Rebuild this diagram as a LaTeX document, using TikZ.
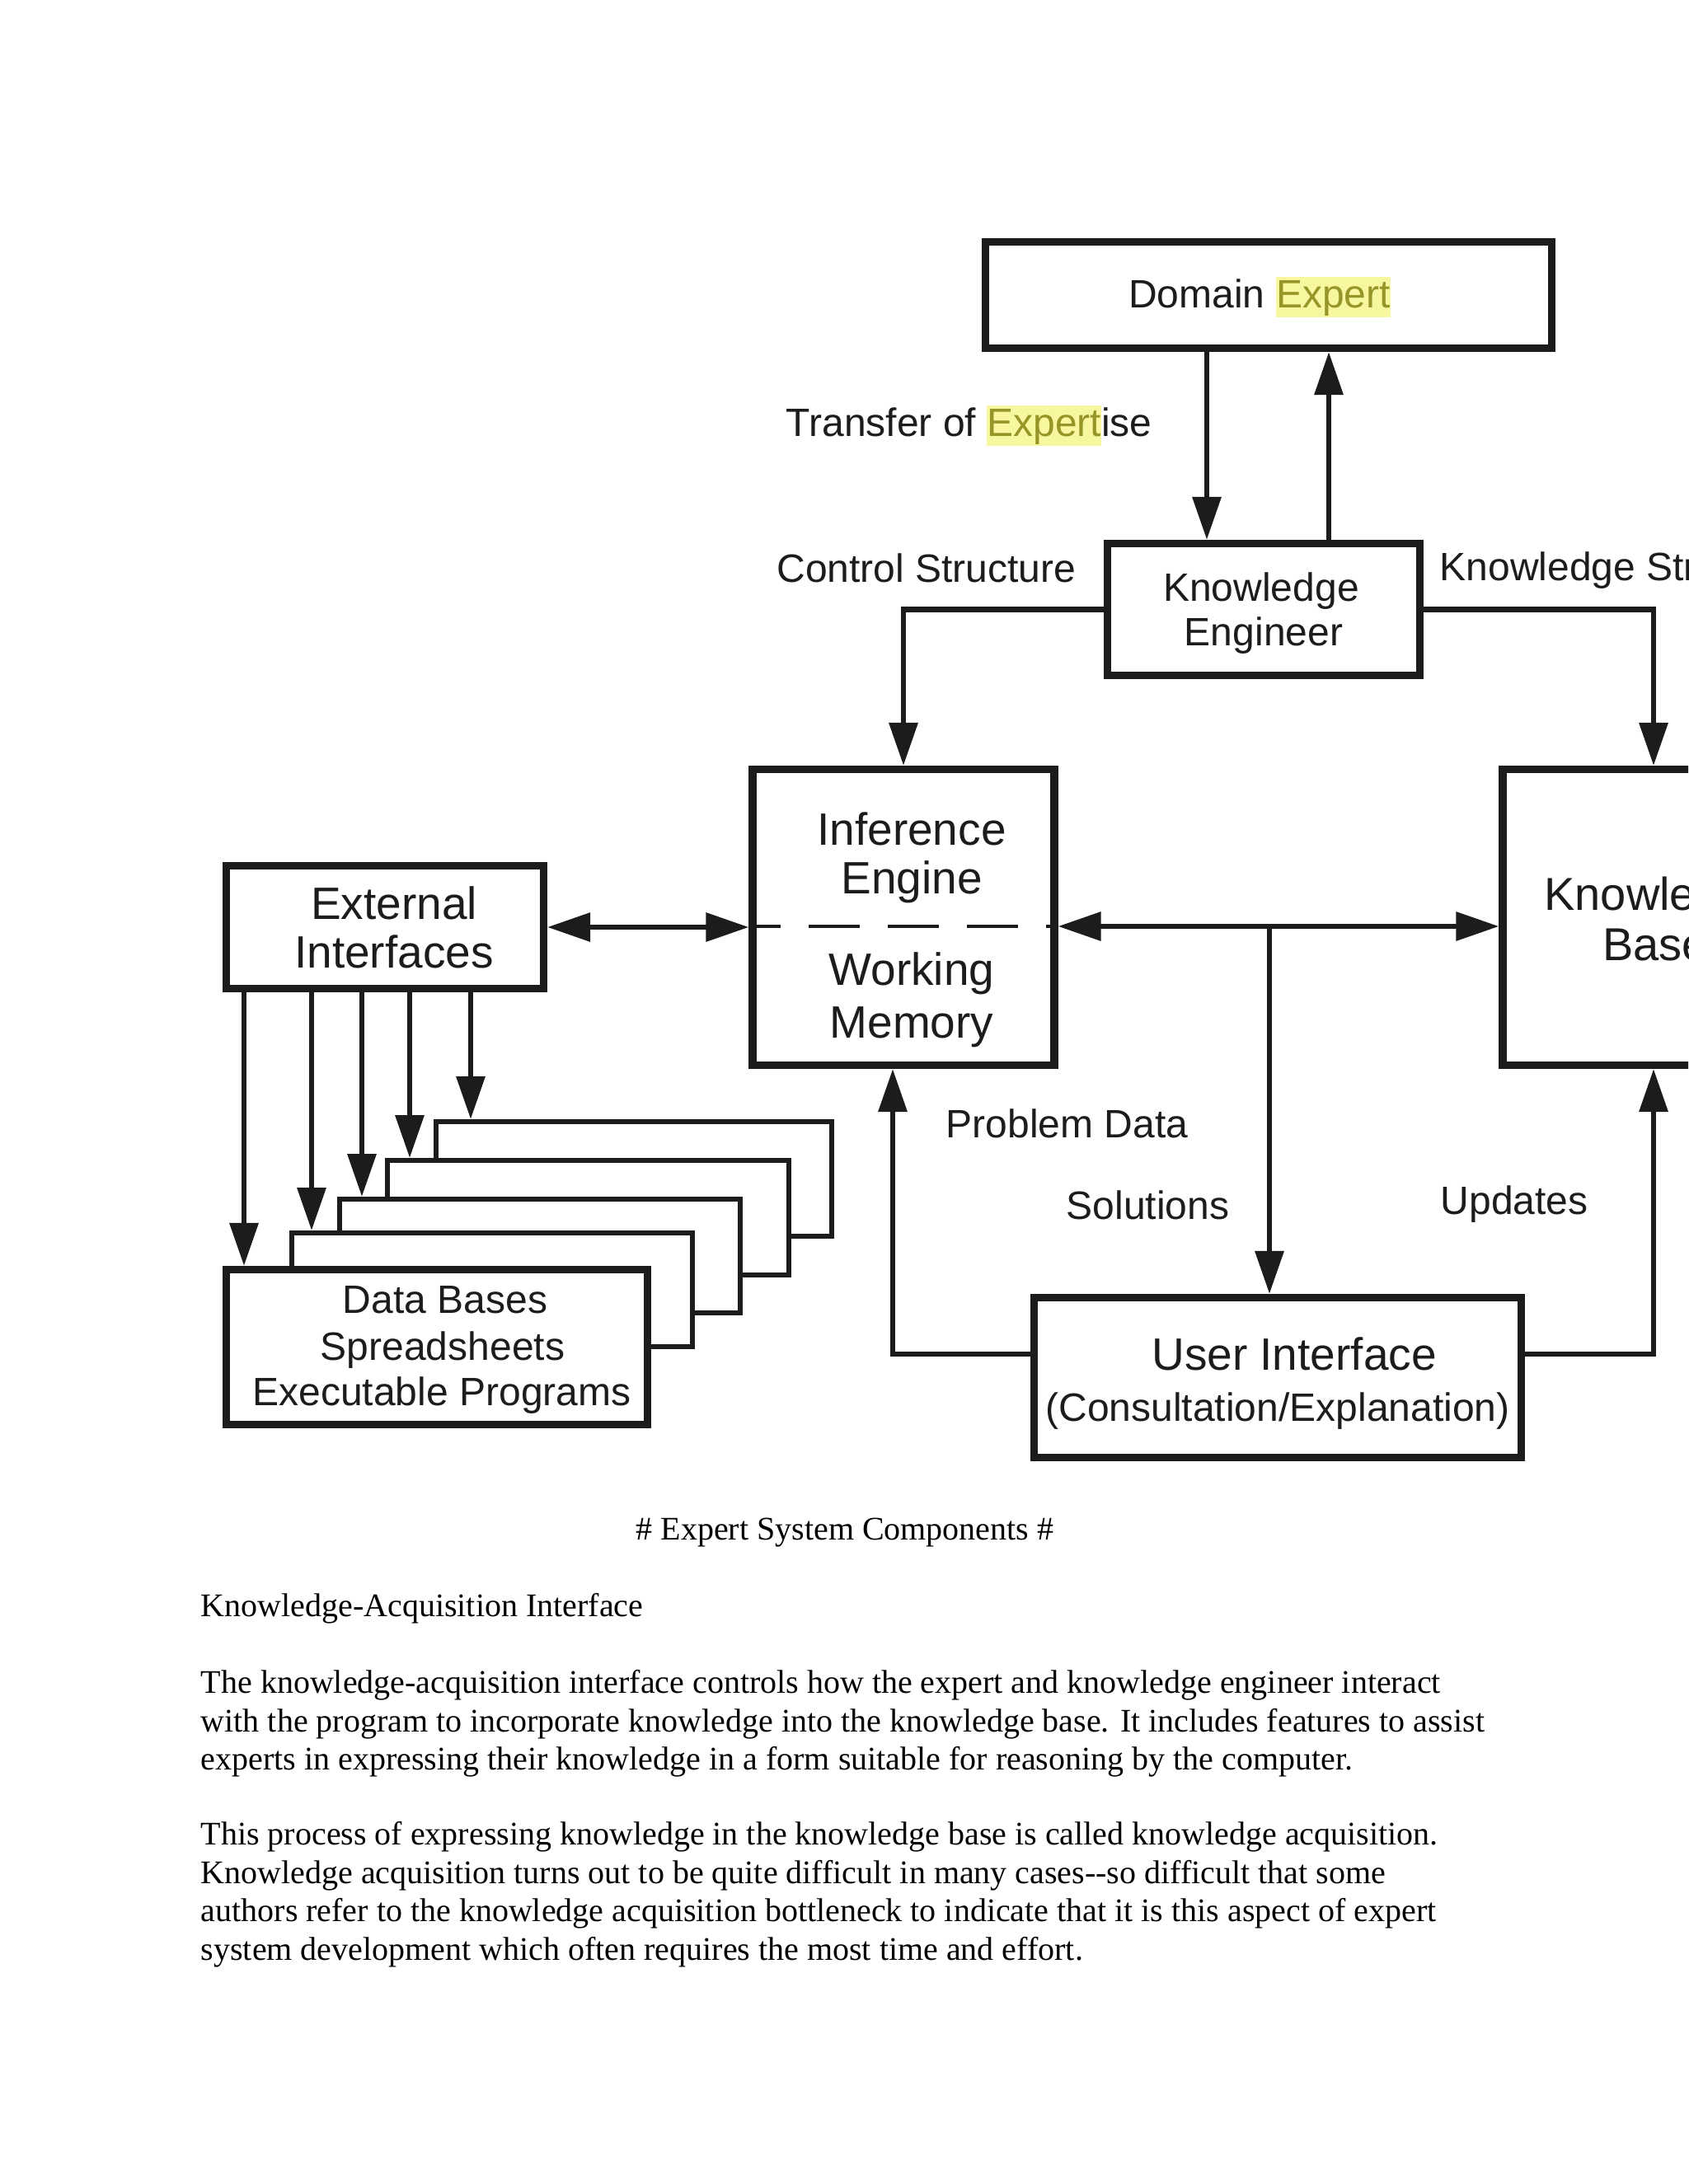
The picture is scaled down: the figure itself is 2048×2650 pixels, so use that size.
\documentclass[tikz,border=0pt]{standalone}
\usepackage{fontspec}
\setmainfont{Liberation Serif}
\newfontfamily\dfont{Liberation Sans}
\usetikzlibrary{arrows.meta}
\definecolor{ink}{HTML}{1C1C1C}
\definecolor{hlbg}{RGB}{247,247,160}
\definecolor{hltext}{RGB}{150,150,40}
\newcommand{\hlword}[1]{{\setlength{\fboxsep}{0pt}\colorbox{hlbg}{\color{hltext}\rule[-0.23em]{0pt}{1.02em}#1}}}
\begin{document}
\begin{tikzpicture}[x=0.25pt,y=-0.25pt,
  box/.style={draw=ink, line width=2.3pt, fill=white, inner sep=0pt},
  backbox/.style={draw=ink, line width=1.5pt, fill=white, inner sep=0pt},
  conn/.style={draw=ink, line width=1.6pt, -{Triangle[length=13pt,width=8.5pt]}},
  biconn/.style={draw=ink, line width=1.6pt, {Triangle[length=13pt,width=8.5pt]}-{Triangle[length=13pt,width=8.5pt]}},
  lbl/.style={text=ink, inner sep=0pt, font=\dfont\fontsize{12}{14}\selectfont},
  big/.style={text=ink, inner sep=0pt, font=\dfont\fontsize{13.75}{16}\selectfont},
  kbf/.style={text=ink, inner sep=0pt, font=\dfont\fontsize{14}{16}\selectfont},
  body/.style={text=black, inner sep=0pt, anchor=base west, font=\fontsize{10}{12}\selectfont}
]
\useasboundingbox (0,0) rectangle (2048,2650);
\fill[white] (0,0) rectangle (2048,2650);
\clip (0,0) rectangle (2048,2650);

% main boxes
\node[box, minimum width=687*0.25pt, minimum height=129*0.25pt] (de) at (1539,358) {};
\node[box, minimum width=379*0.25pt, minimum height=160*0.25pt] (ke) at (1533,739.5) {};
\node[box, minimum width=366*0.25pt, minimum height=359*0.25pt] (ie) at (1096,1113) {};
\node[box, minimum width=366*0.25pt, minimum height=359*0.25pt] (kb) at (2006,1113) {};
\node[box, minimum width=385*0.25pt, minimum height=149*0.25pt] (ei) at (467,1125) {};
\node[box, minimum width=591*0.25pt, minimum height=194*0.25pt] (ui) at (1550,1671.5) {};

% stacked boxes, back to front
\node[backbox, minimum width=480*0.25pt, minimum height=139*0.25pt] (s5) at (769,1430.5) {};
\node[backbox, minimum width=487*0.25pt, minimum height=139*0.25pt] (s4) at (713.5,1477.5) {};
\node[backbox, minimum width=486*0.25pt, minimum height=138*0.25pt] (s3) at (655,1524) {};
\node[backbox, minimum width=486*0.25pt, minimum height=138*0.25pt] (s2) at (597,1565) {};
\node[box, minimum width=511*0.25pt, minimum height=188*0.25pt] (db) at (530,1634.5) {};

% helper coordinates
\coordinate (xa) at (1464,0);
\coordinate (xb) at (1612,0);
\coordinate (j1) at (1540,1124);
\coordinate (pd) at (1083,1643);
\coordinate (upd) at (2008,1643);
\coordinate (e1) at (296,0);
\coordinate (e2) at (378,0);
\coordinate (e3) at (439,0);
\coordinate (e4) at (497,0);
\coordinate (e5) at (571,0);

% dashed divider
\draw[ink, line width=0.85pt, dash pattern=on 15.5pt off 8.5pt, dash phase=5.75pt] (ie.west |- j1) -- (ie.east |- j1);

% connectors
\draw[conn] (de.south -| xa) -- (ke.north -| xa);
\draw[conn] (ke.north -| xb) -- (de.south -| xb);
\draw[conn] (ke.west) -| (ie.north);
\draw[conn] (ke.east) -| (kb.north);
\draw[biconn] (ei.east) -- (ei.east -| ie.west);
\draw[biconn] (ie.east |- j1) -- (kb.west |- j1);
\draw[conn] (j1) -- (ui.north -| j1);
\draw[conn] (ui.west |- pd) -- (pd) -- (pd |- ie.south);
\draw[conn] (ui.east |- upd) -| (kb.south);
\draw[conn] (ei.south -| e1) -- (db.north -| e1);
\draw[conn] (ei.south -| e2) -- (s2.north -| e2);
\draw[conn] (ei.south -| e3) -- (s3.north -| e3);
\draw[conn] (ei.south -| e4) -- (s4.north -| e4);
\draw[conn] (ei.south -| e5) -- (s5.north -| e5);

% diagram texts
\node[lbl, anchor=base] (tde) at (1528,374) {Domain \hlword{Expert}};
\node[lbl, anchor=base west] (ttr) at (953,530) {Transfer of \hlword{Expert}ise};
\node[lbl, anchor=base] (tke1) at (1530,730) {Knowledge};
\node[lbl, anchor=base] (tke2) at (1533,784) {Engineer};
\node[lbl, anchor=base east] (tcs) at (1306,707) {Control Structure};
\node[lbl, anchor=base west] (tks) at (1746,705) {Knowledge Structure};
\node[big, anchor=base] (tie1) at (1106,1025) {Inference};
\node[big, anchor=base] (tie2) at (1106,1084) {Engine};
\node[big, anchor=base] (twm1) at (1106,1195) {Working};
\node[big, anchor=base] (twm2) at (1106,1259) {Memory};
\node[big, anchor=base] (tei1) at (478,1115) {External};
\node[big, anchor=base] (tei2) at (478,1174) {Interfaces};
\node[kbf, anchor=base] (tkb1) at (2012,1104) {Knowledge};
\node[kbf, anchor=base] (tkb2) at (2008,1165) {Base};
\node[lbl, anchor=base] (tdb1) at (540,1593) {Data Bases};
\node[lbl, anchor=base] (tdb2) at (537,1650) {Spreadsheets};
\node[lbl, anchor=base] (tdb3) at (536,1705) {Executable Programs};
\node[big, anchor=base] (tui1) at (1570,1662) {User Interface};
\node[lbl, anchor=base] (tui2) at (1550,1724) {(Consultation/Explanation)};
\node[lbl, anchor=base west] (tpd) at (1147,1380) {Problem Data};
\node[lbl, anchor=base west] (tso) at (1293,1479) {Solutions};
\node[lbl, anchor=base west] (tup) at (1747,1473) {Updates};

% body text
\node[body, anchor=base] (cap) at (1025,1868) {\# Expert System Components \#};
\node[body] (h1) at (243,1961) {Knowledge-Acquisition Interface};
\node[body] (p1a) at (243,2054) {The knowledge-acquisition interface controls how the expert and knowledge engineer interact};
\node[body] (p1b) at (243,2101) {with the program to incorporate knowledge into the knowledge base. It includes features to assist};
\node[body] (p1c) at (243,2147) {experts in expressing their knowledge in a form suitable for reasoning by the computer.};
\node[body] (p2a) at (243,2238) {This process of expressing knowledge in the knowledge base is called knowledge acquisition.};
\node[body] (p2b) at (243,2285) {Knowledge acquisition turns out to be quite difficult in many cases{-}{-}so difficult that some};
\node[body] (p2c) at (243,2331) {authors refer to the knowledge acquisition bottleneck to indicate that it is this aspect of expert};
\node[body] (p2d) at (243,2378) {system development which often requires the most time and effort.};
\end{tikzpicture}
\end{document}
